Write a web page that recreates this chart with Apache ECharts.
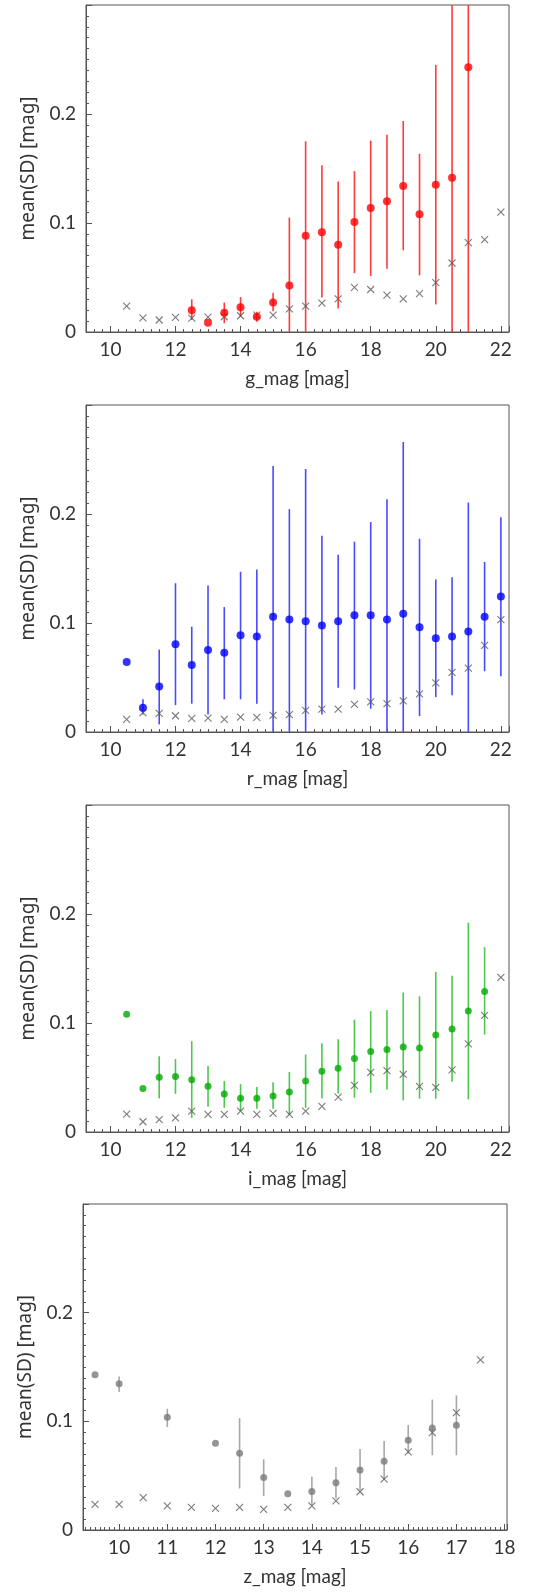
<!DOCTYPE html>
<html>
<head>
<meta charset="utf-8">
<script src="https://cdn.jsdelivr.net/npm/echarts@6/dist/echarts.min.js"></script>
<style>
  html, body { margin: 0; padding: 0; background: #fff; }
  #chart { width: 537px; height: 1593px; }
</style>
</head>
<body>
<div id="chart"></div>
<script>
// g band
var gX    = [12.5, 13, 13.5, 14, 14.5, 15, 15.5, 16, 16.5, 17, 17.5, 18, 18.5, 19, 19.5, 20, 20.5, 21];
var gMean = [0.020, 0.0085, 0.0177, 0.0228, 0.014, 0.027, 0.0426, 0.0883, 0.0916, 0.080, 0.101, 0.1138, 0.120, 0.134, 0.108, 0.135, 0.1416, 0.243];
var gLo   = [0.011, null, 0.008, 0.014, 0.0094, 0.019, -0.05, -0.05, 0.0317, 0.0216, 0.054, 0.0514, 0.058, 0.0749, 0.052, 0.0253, -0.05, -0.05];
var gHi   = [0.030, null, 0.027, 0.032, 0.0186, 0.036, 0.105, 0.175, 0.153, 0.138, 0.1476, 0.1756, 0.181, 0.1936, 0.1635, 0.245, 0.4, 0.4];
var gRefX = [10.5, 11, 11.5, 12, 12.5, 13, 13.5, 14, 14.5, 15, 15.5, 16, 16.5, 17, 17.5, 18, 18.5, 19, 19.5, 20, 20.5, 21, 21.5, 22];
var gRef  = [0.0237, 0.013, 0.011, 0.0134, 0.0128, 0.0137, 0.014, 0.0149, 0.0155, 0.0155, 0.0213, 0.0237, 0.0265, 0.0304, 0.041, 0.039, 0.0338, 0.0304, 0.0353, 0.0454, 0.0633, 0.082, 0.0847, 0.110];

// r band
var rX    = [10.5, 11, 11.5, 12, 12.5, 13, 13.5, 14, 14.5, 15, 15.5, 16, 16.5, 17, 17.5, 18, 18.5, 19, 19.5, 20, 20.5, 21, 21.5, 22];
var rMean = [0.0643, 0.0222, 0.0418, 0.0804, 0.0615, 0.0753, 0.0728, 0.0887, 0.0877, 0.1057, 0.1033, 0.1015, 0.0978, 0.1015, 0.107, 0.107, 0.1033, 0.1085, 0.096, 0.086, 0.0877, 0.0923, 0.1057, 0.1243];
var rLo   = [null, 0.016, 0.007, 0.0247, 0.026, 0.016, 0.030, 0.030, 0.026, -0.05, -0.05, -0.05, 0.016, 0.0405, 0.039, 0.0213, -0.05, -0.05, 0.0146, 0.032, 0.0338, -0.05, 0.0557, 0.0512];
var rHi   = [null, 0.030, 0.0756, 0.1365, 0.0966, 0.1344, 0.1146, 0.147, 0.149, 0.244, 0.2045, 0.2413, 0.180, 0.1627, 0.1746, 0.1926, 0.2136, 0.266, 0.1773, 0.140, 0.142, 0.2105, 0.156, 0.197];
var rRef  = [0.0116, 0.0177, 0.0171, 0.0149, 0.0125, 0.0128, 0.0116, 0.0137, 0.0134, 0.0152, 0.016, 0.0198, 0.021, 0.021, 0.0253, 0.0277, 0.026, 0.0286, 0.035, 0.045, 0.0548, 0.0585, 0.0795, 0.103];

// i band
var iX    = [10.5, 11, 11.5, 12, 12.5, 13, 13.5, 14, 14.5, 15, 15.5, 16, 16.5, 17, 17.5, 18, 18.5, 19, 19.5, 20, 20.5, 21, 21.5];
var iMean = [0.108, 0.040, 0.0503, 0.051, 0.048, 0.042, 0.0348, 0.031, 0.031, 0.033, 0.0366, 0.0467, 0.0558, 0.0586, 0.0674, 0.0738, 0.0756, 0.078, 0.077, 0.089, 0.0945, 0.111, 0.129];
var iLo   = [null, null, 0.0308, 0.035, 0.013, 0.0232, 0.0222, 0.0192, 0.0213, 0.0213, 0.0156, 0.0222, 0.0308, 0.0354, 0.0314, 0.036, 0.039, 0.029, 0.0305, 0.0305, 0.046, 0.030, 0.0894];
var iHi   = [null, null, 0.0695, 0.067, 0.0833, 0.0607, 0.0467, 0.0439, 0.0412, 0.0457, 0.055, 0.071, 0.0814, 0.0851, 0.103, 0.111, 0.112, 0.128, 0.1244, 0.147, 0.1433, 0.192, 0.1696];
var iRefX = [10.5, 11, 11.5, 12, 12.5, 13, 13.5, 14, 14.5, 15, 15.5, 16, 16.5, 17, 17.5, 18, 18.5, 19, 19.5, 20, 20.5, 21, 21.5, 22];
var iRef  = [0.0165, 0.0094, 0.0113, 0.013, 0.0192, 0.0162, 0.0162, 0.0192, 0.0162, 0.0171, 0.0162, 0.0192, 0.0235, 0.032, 0.0427, 0.0546, 0.0564, 0.0528, 0.0418, 0.0409, 0.057, 0.0808, 0.107, 0.1418];

// z band
var zX    = [9.5, 10, 11, 12, 12.5, 13, 13.5, 14, 14.5, 15, 15.5, 16, 16.5, 17];
var zMean = [0.1428, 0.1346, 0.1037, 0.0798, 0.0706, 0.0483, 0.0333, 0.0355, 0.0434, 0.0553, 0.0633, 0.0826, 0.0939, 0.0963];
var zLo   = [null, 0.127, 0.0948, null, 0.0382, 0.0312, null, 0.0229, 0.029, 0.0367, 0.0459, 0.0703, 0.0688, 0.0688];
var zHi   = [null, 0.1413, 0.1116, null, 0.103, 0.0651, null, 0.0489, 0.058, 0.0746, 0.0819, 0.0966, 0.120, 0.1239];
var zRefX = [9.5, 10, 10.5, 11, 11.5, 12, 12.5, 13, 13.5, 14, 14.5, 15, 15.5, 16, 16.5, 17, 17.5];
var zRef  = [0.0236, 0.0236, 0.0297, 0.0223, 0.0208, 0.0199, 0.0208, 0.019, 0.0208, 0.0223, 0.0269, 0.0352, 0.0468, 0.0718, 0.0896, 0.108, 0.1566];

var panels = [
  { name: 'g_mag [mag]', x: gX, mean: gMean, lo: gLo, hi: gHi, refX: gRefX, ref: gRef, dot: '#ff0000', bar: '#ff3b3b', size: 8, min: 9.25, max: 22.25, split: 6, minor: 8 },
  { name: 'r_mag [mag]', x: rX, mean: rMean, lo: rLo, hi: rHi, refX: rX, ref: rRef, dot: '#0000ff', bar: '#4a4aff', size: 8, min: 9.25, max: 22.25, split: 6, minor: 8 },
  { name: 'i_mag [mag]', x: iX, mean: iMean, lo: iLo, hi: iHi, refX: iRefX, ref: iRef, dot: '#00aa00', bar: '#4cc84c', size: 7, min: 9.25, max: 22.25, split: 6, minor: 8 },
  { name: 'z_mag [mag]', x: zX, mean: zMean, lo: zLo, hi: zHi, refX: zRefX, ref: zRef, dot: '#7a7a7a', bar: '#a8a8a8', size: 7, min: 9.25, max: 18.05, split: 9, minor: 10 }
];

var font = 'Lato';
var axisColor = '#555';
var grids = [], xAxes = [], yAxes = [], series = [];
var crossPath = 'path://M0,0L10,10M10,0L0,10';

panels.forEach(function (p, k) {
  var last = k === 3;
  grids.push({
    left: last ? 83 : 86,
    right: last ? 30 : 28,
    top: last ? 1204 : 5 + 400 * k,
    height: last ? 326 : 327,
    show: true,
    borderColor: axisColor,
    borderWidth: 1
  });
  xAxes.push({
    type: 'value', gridIndex: k, min: p.min, max: p.max, splitNumber: p.split,
    name: p.name, nameLocation: 'middle', nameGap: 37,
    nameTextStyle: { fontFamily: font, fontSize: 19, color: '#333' },
    axisLine: { show: true, lineStyle: { color: axisColor } },
    axisTick: { inside: true, length: 6, lineStyle: { color: axisColor } },
    minorTick: { show: true, splitNumber: p.minor, length: 3, lineStyle: { color: axisColor } },
    axisLabel: {
      fontFamily: font, fontSize: 19, color: '#333', margin: 8,
      formatter: function (v) { return Number.isInteger(v) ? String(v) : ''; }
    },
    splitLine: { show: false }
  });
  yAxes.push({
    type: 'value', gridIndex: k, min: 0, max: 0.3, interval: 0.1,
    name: 'mean(SD) [mag]', nameLocation: 'middle', nameGap: 48,
    nameTextStyle: { fontFamily: 'Noto Sans', fontSize: 19, color: '#333' },
    axisLine: { show: true, lineStyle: { color: axisColor } },
    axisTick: { inside: true, length: 6, lineStyle: { color: axisColor } },
    minorTick: { show: true, splitNumber: 10, length: 3, lineStyle: { color: axisColor } },
    axisLabel: { fontFamily: font, fontSize: 19, color: '#333', margin: 10, showMaxLabel: false },
    splitLine: { show: false }
  });

  var barData = [];
  p.x.forEach(function (x, i) {
    if (p.lo[i] !== null) barData.push([x, p.lo[i], p.hi[i]]);
  });
  series.push({
    type: 'custom', xAxisIndex: k, yAxisIndex: k, silent: true, clip: true,
    data: barData,
    renderItem: (function (color) {
      return function (params, api) {
        var x = api.value(0);
        var lo = Math.max(0, api.value(1));
        var hi = Math.min(0.3, api.value(2));
        var a = api.coord([x, lo]);
        var b = api.coord([x, hi]);
        return {
          type: 'line',
          shape: { x1: a[0], y1: a[1], x2: b[0], y2: b[1] },
          style: { stroke: color, lineWidth: 1.6 }
        };
      };
    })(p.bar)
  });
  series.push({
    type: 'scatter', xAxisIndex: k, yAxisIndex: k, silent: true,
    symbol: crossPath, symbolSize: 7,
    itemStyle: { color: 'rgba(0,0,0,0)', borderColor: '#5a5a5a', borderWidth: 1.1 },
    data: p.refX.map(function (x, i) { return [x, p.ref[i]]; })
  });
  series.push({
    type: 'scatter', xAxisIndex: k, yAxisIndex: k, silent: true,
    symbol: 'circle', symbolSize: p.size,
    itemStyle: { color: p.dot },
    data: p.x.map(function (x, i) { return [x, p.mean[i]]; })
  });
});

var chart = echarts.init(document.getElementById('chart'));
chart.setOption({
  animation: false,
  backgroundColor: '#fff',
  grid: grids,
  xAxis: xAxes,
  yAxis: yAxes,
  series: series
});
</script>
</body>
</html>
